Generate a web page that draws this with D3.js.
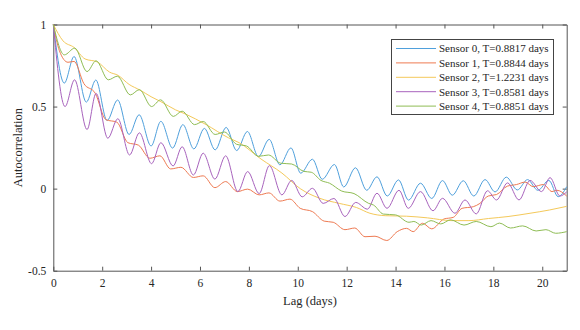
<!DOCTYPE html>
<html>
<head>
<meta charset="utf-8">
<script src="https://cdn.jsdelivr.net/npm/d3@7"></script>
<style>
  html, body { margin: 0; padding: 0; background: #fff; }
  svg { display: block; }
  svg text { font-family: "Liberation Serif", "Times New Roman", "DejaVu Serif", serif !important; }
</style>
</head>
<body>
<svg id="chart" width="580" height="330"></svg>
<script>
// ---- Data ----
const seriesNames = [
  "Sensor 0, T=0.8817 days",
  "Sensor 1, T=0.8844 days",
  "Sensor 2, T=1.2231 days",
  "Sensor 3, T=0.8581 days",
  "Sensor 4, T=0.8851 days"
];
const xTicks = [0, 2, 4, 6, 8, 10, 12, 14, 16, 18, 20];
const yTicks = [-0.5, 0, 0.5, 1];

// [lag (days), autocorrelation]
const sensor0 = [[0,1],[0.45,0.643],[0.85,0.805],[1.35,0.527],[1.74,0.662],[2.2,0.415],[2.63,0.54],[3.1,0.33],[3.51,0.45],[4.0,0.26],[4.4,0.41],[4.88,0.247],[5.3,0.39],[5.75,0.242],[6.18,0.367],[6.62,0.236],[7.07,0.373],[7.5,0.232],[7.94,0.348],[8.39,0.195],[8.83,0.30],[9.27,0.145],[9.72,0.248],[10.12,0.094],[10.6,0.179],[11.0,0.057],[11.5,0.147],[11.88,0.01],[12.36,0.127],[12.82,-0.01],[13.24,0.072],[13.66,-0.045],[14.12,0.053],[14.53,-0.07],[15.02,0.033],[15.48,-0.06],[15.92,0.049],[16.32,-0.04],[16.77,0.048],[17.2,-0.045],[17.66,0.055],[18.07,-0.02],[18.53,0.07],[18.98,-0.008],[19.4,0.055],[19.82,-0.01],[20.27,0.05],[20.65,-0.049],[21,0.012]];
const sensor1 = [[0,1],[0.25,0.84],[0.6,0.77],[0.85,0.775],[1.25,0.64],[1.72,0.58],[2.15,0.42],[2.6,0.405],[3.05,0.28],[3.48,0.265],[3.95,0.185],[4.36,0.2],[4.8,0.12],[5.22,0.13],[5.73,0.068],[6.13,0.078],[6.61,0.006],[7.05,0.043],[7.53,-0.018],[7.95,-0.003],[8.42,-0.038],[8.82,-0.026],[9.27,-0.076],[9.68,-0.064],[10.1,-0.12],[10.6,-0.14],[11.08,-0.198],[11.45,-0.205],[11.93,-0.25],[12.33,-0.24],[12.75,-0.293],[13.16,-0.29],[13.64,-0.316],[14.07,-0.262],[14.45,-0.242],[14.72,-0.262],[15.1,-0.211],[15.48,-0.245],[15.98,-0.185],[16.36,-0.175],[16.72,-0.12],[17.18,-0.11],[17.45,-0.09],[17.79,-0.045],[18.13,-0.036],[18.57,0.015],[18.95,0.025],[19.3,0.04],[19.63,0.012],[20.05,0.025],[20.4,-0.018],[20.6,-0.01],[21,-0.045]];
const sensor2 = [[0,1],[0.4,0.9],[0.85,0.86],[1.3,0.79],[1.8,0.772],[2.3,0.71],[2.65,0.69],[3.1,0.635],[3.55,0.6],[4.0,0.56],[4.4,0.53],[5.0,0.48],[5.4,0.455],[6.25,0.39],[7.16,0.31],[7.6,0.28],[8.5,0.18],[9.35,0.095],[10.1,0.0],[10.9,-0.059],[11.7,-0.09],[12.4,-0.115],[12.95,-0.15],[13.6,-0.165],[14.45,-0.168],[15.3,-0.178],[16.3,-0.195],[17.0,-0.195],[17.8,-0.182],[18.6,-0.17],[19.5,-0.15],[20.3,-0.13],[21,-0.108]];
const sensor3 = [[0,1],[0.48,0.5],[0.87,0.663],[1.38,0.36],[1.75,0.58],[2.23,0.307],[2.64,0.426],[3.12,0.205],[3.52,0.34],[4.02,0.152],[4.4,0.28],[4.9,0.138],[5.27,0.255],[5.73,0.083],[6.13,0.216],[6.61,0.058],[7.05,0.2],[7.55,-0.018],[7.95,0.104],[8.42,-0.03],[8.84,0.14],[9.35,-0.038],[9.75,0.05],[10.18,-0.05],[10.6,0.002],[11.04,-0.09],[11.48,-0.06],[11.93,-0.17],[12.37,-0.084],[12.85,-0.125],[13.24,-0.028],[13.65,-0.12],[14.14,-0.01],[14.52,-0.12],[15.02,-0.018],[15.53,-0.135],[15.92,-0.059],[16.43,-0.15],[16.84,-0.069],[17.3,-0.154],[17.76,-0.013],[18.13,-0.069],[18.58,0.035],[19.05,-0.069],[19.5,0.05],[19.97,-0.018],[20.32,0.067],[20.72,-0.045],[21,-0.02]];
const sensor4 = [[0,1],[0.45,0.815],[0.88,0.856],[1.38,0.713],[1.75,0.779],[2.25,0.663],[2.62,0.685],[3.15,0.571],[3.52,0.603],[4.02,0.5],[4.39,0.541],[4.91,0.44],[5.27,0.472],[5.78,0.39],[6.13,0.409],[6.62,0.33],[7.0,0.345],[7.5,0.27],[7.9,0.26],[8.4,0.197],[8.8,0.205],[9.3,0.155],[9.75,0.15],[10.25,0.105],[10.55,0.1],[10.95,0.05],[11.3,0.033],[11.8,-0.015],[12.3,-0.03],[12.9,-0.09],[13.1,-0.1],[13.5,-0.155],[14.0,-0.16],[14.55,-0.205],[14.75,-0.2],[15.05,-0.222],[15.45,-0.195],[15.85,-0.215],[16.25,-0.19],[16.8,-0.222],[17.3,-0.2],[17.9,-0.232],[18.25,-0.21],[18.7,-0.24],[19.2,-0.227],[19.75,-0.258],[20.15,-0.25],[20.55,-0.272],[21,-0.262]];

const seriesData = [sensor0, sensor1, sensor2, sensor3, sensor4];
const colors = ["#4fa0dc", "#ee7a52", "#f4c95a", "#a863bd", "#8fbd55"];

// ---- Layout ----
const FONT = "'Liberation Serif', 'Times New Roman', 'DejaVu Serif', serif";
const svg = d3.select("#chart");
const mLeft = 53.3, mRight = 566.7, mTop = 24.5, mBottom = 270.7;

const x = d3.scaleLinear().domain([0, 21]).range([mLeft, mRight]);
const y = d3.scaleLinear().domain([-0.5, 1]).range([mBottom, mTop]);

const axisColor = "#555";
const textColor = "#262626";

// Axes with inward ticks
const tickLen = 4;
const gx = svg.append("g").attr("transform", `translate(0,${mBottom})`)
  .call(d3.axisBottom(x).tickValues(xTicks).tickSizeInner(-tickLen).tickSizeOuter(0).tickPadding(8).tickFormat(d3.format("d")));
const gxTop = svg.append("g").attr("transform", `translate(0,${mTop})`)
  .call(d3.axisTop(x).tickValues(xTicks).tickSizeInner(-tickLen).tickSizeOuter(0).tickFormat(""));
const gy = svg.append("g").attr("transform", `translate(${mLeft},0)`)
  .call(d3.axisLeft(y).tickValues(yTicks).tickSizeInner(-tickLen).tickSizeOuter(0).tickPadding(7).tickFormat(d => String(d)));
const gyRight = svg.append("g").attr("transform", `translate(${mRight},0)`)
  .call(d3.axisRight(y).tickValues(yTicks).tickSizeInner(-tickLen).tickSizeOuter(0).tickFormat(""));

[gx, gxTop, gy, gyRight].forEach(g => {
  g.attr("font-family", FONT).attr("font-size", 11.5);
  g.select(".domain").attr("stroke", axisColor);
  g.selectAll(".tick line").attr("stroke", axisColor);
  g.selectAll(".tick text").attr("fill", textColor)
    .attr("font-family", FONT)
    .attr("font-size", 11.5);
});

// Lines
const line = d3.line()
  .x(d => x(d[0]))
  .y(d => y(d[1]))
  .curve(d3.curveMonotoneX);

const plot = svg.append("g");
seriesData.forEach((s, i) => {
  plot.append("path")
    .datum(s)
    .attr("fill", "none")
    .attr("stroke", colors[i])
    .attr("stroke-width", 1)
    .attr("d", line);
});

// Axis labels
svg.append("text")
  .attr("x", (mLeft + mRight) / 2)
  .attr("y", 305)
  .attr("text-anchor", "middle")
  .attr("fill", textColor)
  .attr("font-family", FONT)
  .attr("font-size", 12.5)
  .text("Lag (days)");

svg.append("text")
  .attr("transform", `translate(22,${(mTop + mBottom) / 2}) rotate(-90)`)
  .attr("text-anchor", "middle")
  .attr("fill", textColor)
  .attr("font-family", FONT)
  .attr("font-size", 12.5)
  .text("Autocorrelation");

// Legend
const lg = svg.append("g");
lg.append("rect")
  .attr("x", 391.5).attr("y", 39.5)
  .attr("width", 162).attr("height", 75)
  .attr("fill", "#fff")
  .attr("stroke", "#444")
  .attr("stroke-width", 1);
seriesNames.forEach((name, i) => {
  const yy = 48.5 + i * 14.4;
  lg.append("line")
    .attr("x1", 396).attr("x2", 436)
    .attr("y1", yy).attr("y2", yy)
    .attr("stroke", colors[i]).attr("stroke-width", 1);
  lg.append("text")
    .attr("x", 439).attr("y", yy + 3.8)
    .attr("fill", textColor)
    .attr("font-family", FONT)
    .attr("font-size", 11)
    .text(name);
});
</script>
</body>
</html>
